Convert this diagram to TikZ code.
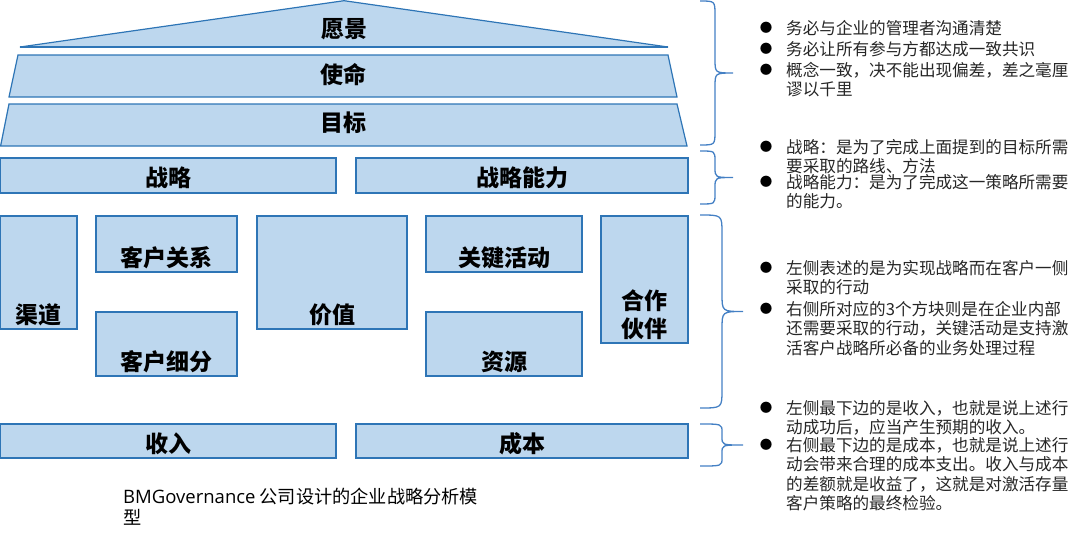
\documentclass[tikz,border=0pt]{standalone}
\usepackage{fontspec}
\newfontfamily\cjk{Noto Sans CJK SC}
\newfontfamily\lat{Open Sans}
\usepackage{xcolor}
\definecolor{boxblue}{RGB}{189,215,238}
\definecolor{edgeblue}{RGB}{46,117,182}
\definecolor{bracecol}{RGB}{68,128,196}
\definecolor{notegray}{RGB}{38,38,38}
\usepackage{tikz}

\begin{document}
\begin{tikzpicture}[x=1pt, y=-1pt, every node/.style={font=\cjk},
  blk/.style={draw=edgeblue, fill=boxblue, line width=1.2pt, inner sep=0pt},
  lbl/.style={font=\cjk\bfseries\fontsize{23}{28}\selectfont, inner sep=0pt},
  note/.style={font=\cjk\fontsize{16.6}{19.5}\selectfont, text=notegray, align=left, anchor=north west, inner sep=0pt},
  dot/.style={font=\cjk\fontsize{12.5}{13}\selectfont, text=black, inner sep=0pt},
  brc/.style={draw=bracecol, line width=1.3pt}]
  \useasboundingbox (0,0) rectangle (1080,541);

  \filldraw[blk] (20,47) -- (344,0.7) -- (668,47) -- cycle;
  \draw[edgeblue, line width=2pt] (20,47) -- (668,47);
  \filldraw[blk] (18,55) -- (668,55) -- (677,97) -- (9,97) -- cycle;
  \filldraw[blk] (9,104) -- (677,104) -- (687,146) -- (0.6,146) -- cycle;
  \node[lbl] (yuanjing) at (344,29) {愿景};
  \node[lbl] (shiming) at (343,75) {使命};
  \node[lbl] (mubiao) at (343,123) {目标};

  \foreach \name/\cx/\cy/\w/\h in {zhanlue/168.3/175.5/335.4/35, nengli/522/175.5/332/35,
      qudao/38.8/272.5/76.4/113, guanxi/166.5/244/141/56, xifen/166.5/344/141/64,
      jiazhi/332/272.5/150/113, huodong/504/244/156/56, ziyuan/504/344/156/64,
      huoban/644.5/279.5/87/127, shouru/168.3/441/335.4/34, chengben/522/441/332/34} {
    \node[blk, minimum width=\w, minimum height=\h] (\name) at (\cx,\cy) {};
  }
  \node[lbl] (t-zhanlue) at (168,178) {战略};
  \node[lbl] (t-nengli) at (522,178) {战略能力};
  \node[lbl] (t-shouru) at (168,444) {收入};
  \node[lbl] (t-chengben) at (522,444) {成本};
  \foreach \name/\txt in {qudao/渠道, guanxi/客户关系, xifen/客户细分, jiazhi/价值,
      huodong/关键活动, ziyuan/资源, huoban/{合作\\伙伴}} {
    \node[lbl, anchor=south, align=center] (t-\name) at ([yshift=3.5pt]\name.south) {\txt};
  }

  \foreach \ya/\yb/\xv/\xt/\r in {1/145/715/733/14, 151/204/715/733/10,
      215/408/722/743/18, 424/466/722/743/8} {
    \pgfmathsetmacro\ym{(\ya+\yb)/2}
    \draw[brc] (700,\ya) .. controls (\xv,\ya) .. (\xv,\ya+\r) -- (\xv,\ym-\r)
      .. controls (\xv,\ym) .. (\xt,\ym) .. controls (\xv,\ym) .. (\xv,\ym+\r)
      -- (\xv,\yb-\r) .. controls (\xv,\yb) .. (700,\yb);
  }

  \foreach \yc/\txt [count=\i] in {28/{务必与企业的管理者沟通清楚},
      49/{务必让所有参与方都达成一致共识},
      70/{概念一致，决不能出现偏差，差之毫厘\\谬以千里},
      147/{战略：是为了完成上面提到的目标所需\\要采取的路线、方法},
      182/{战略能力：是为了完成这一策略所需要\\的能力。},
      268/{左侧表述的是为实现战略而在客户一侧\\采取的行动},
      309/{右侧所对应的3个方块则是在企业内部\\还需要采取的行动，关键活动是支持激\\活客户战略所必备的业务处理过程},
      408/{左侧最下边的是收入，也就是说上述行\\动成功后，应当产生预期的收入。},
      445/{右侧最下边的是成本，也就是说上述行\\动会带来合理的成本支出。收入与成本\\的差额就是收益了，这就是对激活存量\\客户策略的最终检验。}} {
    \node[note] (note\i) at (786,\yc-8) {\txt};
    \node[dot] (dot\i) at (766,\yc) {●};
  }

  \node[font=\cjk\fontsize{18.2}{21}\selectfont, align=left, anchor=north west, inner sep=0pt]
    (caption) at (123,488) {{\lat\fontsize{18.5}{21}\selectfont BMGovernance} 公司设计的企业战略分析模\\型};
\end{tikzpicture}
\end{document}
